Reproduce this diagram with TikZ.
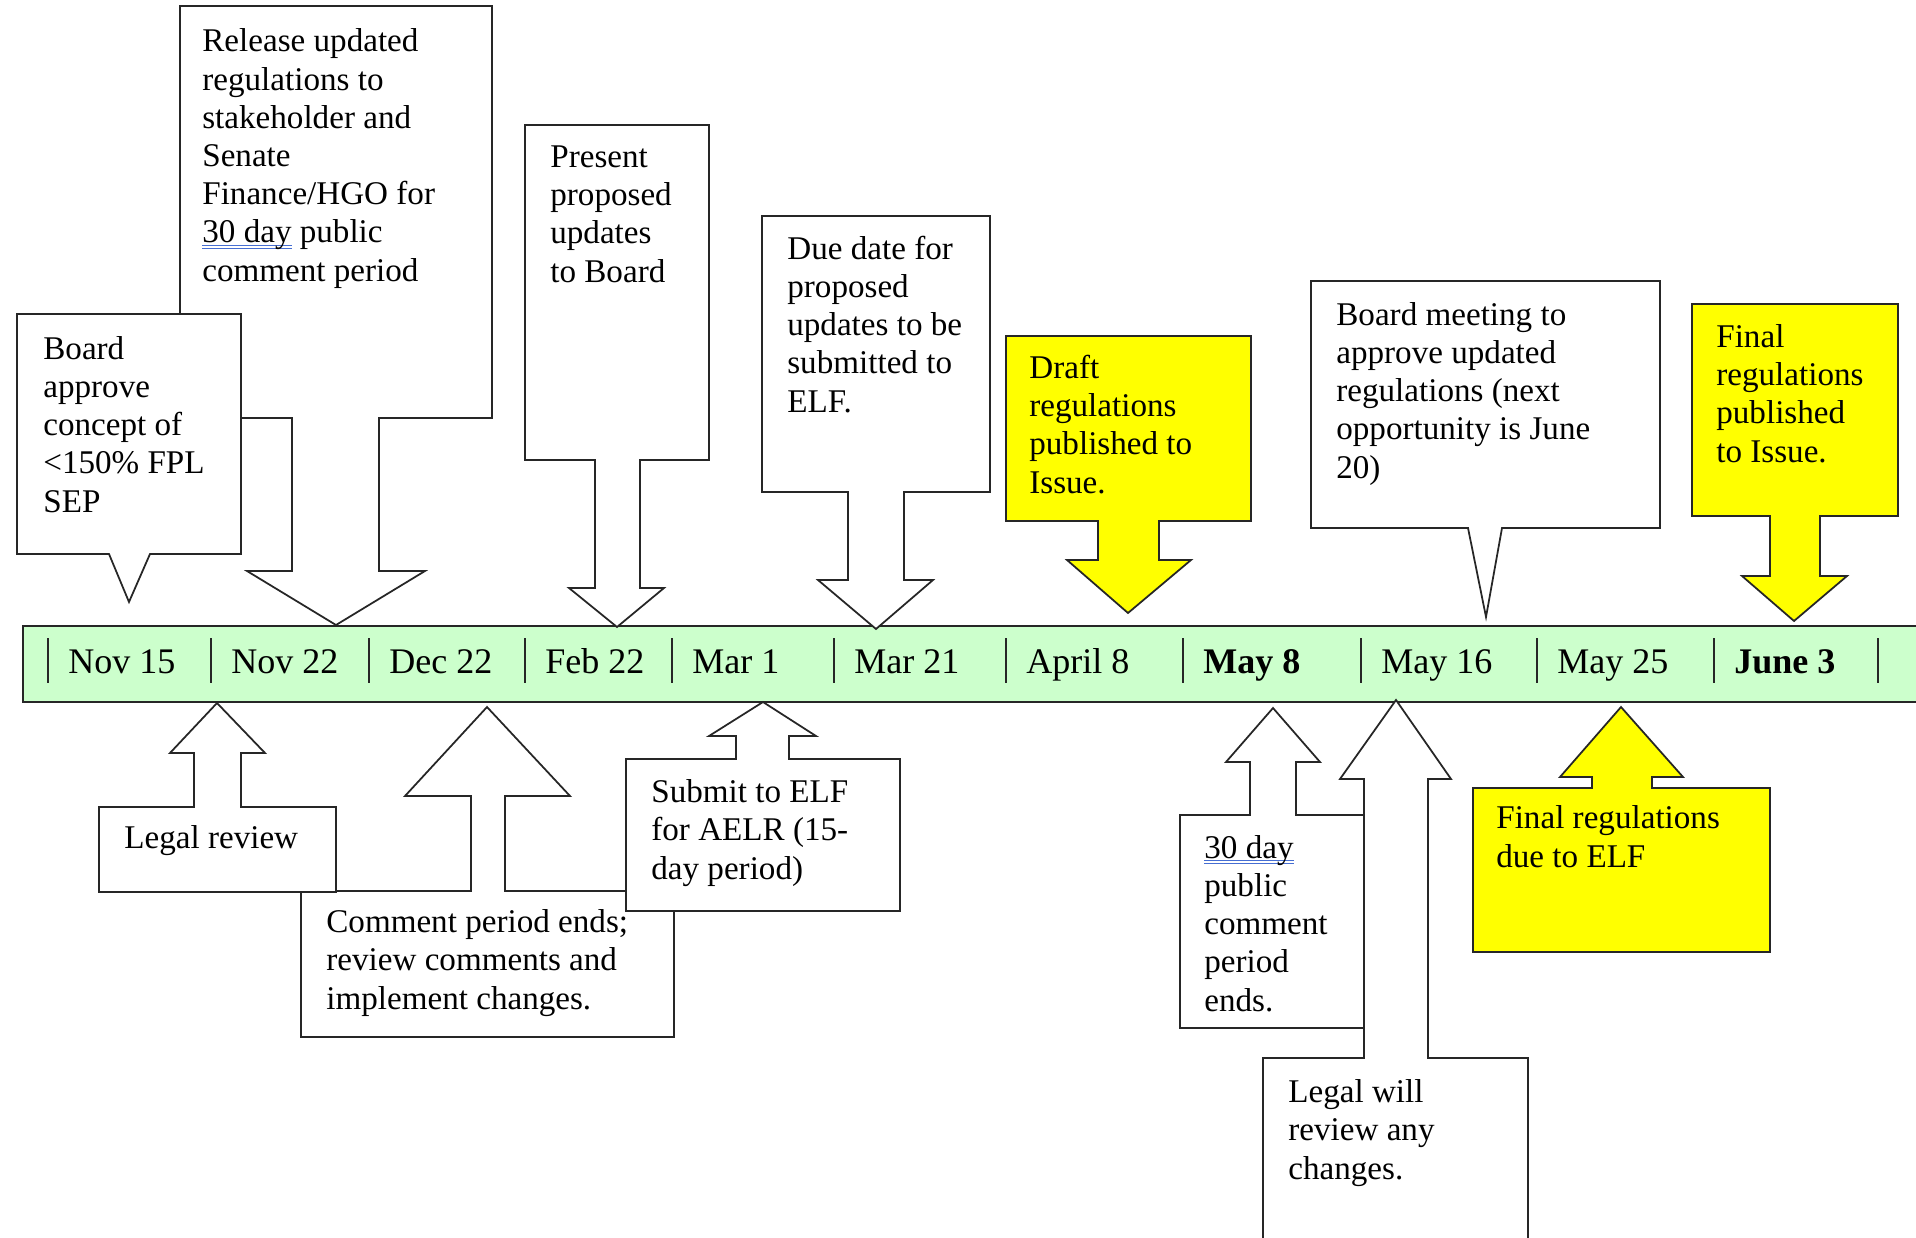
\documentclass[tikz,border=0pt]{standalone}
\usepackage{fontspec}
\setmainfont{Liberation Serif}
\definecolor{bandgreen}{RGB}{204,255,204}
\definecolor{notebright}{RGB}{255,255,0}
\definecolor{gramblue}{RGB}{70,110,210}
\newsavebox\ulbox
\newcommand{\gramul}[1]{\sbox\ulbox{#1}\rlap{\color{gramblue}\rule[-1.6pt]{\wd\ulbox}{0.6pt}}\rlap{\color{gramblue}\rule[-3.4pt]{\wd\ulbox}{0.6pt}}#1}
\newcommand{\bodyfont}{\fontsize{18.85pt}{21.74pt}\selectfont}
\newcommand{\datefont}{\fontsize{20.5pt}{24pt}\selectfont}

\begin{document}
\begin{tikzpicture}[x=0.02cm,y=-0.02cm]
\tikzstyle{band}=[draw=black!85, line width=1pt, fill=bandgreen]
\tikzstyle{divider}=[draw=black!85, line width=0.8pt]
\tikzstyle{callout}=[draw=black!85, line width=1pt, fill=white, line join=miter]
\tikzstyle{hilite}=[callout, fill=notebright]
% notes are placed by the baseline of their last line
\tikzstyle{note}=[anchor=base west, inner sep=0pt, align=left, font=\bodyfont]
\tikzstyle{datelabel}=[anchor=base west, inner sep=0pt, font=\datefont]
\useasboundingbox (0,0) rectangle (1916,1237);
\clip (0,0) rectangle (1916,1237);

% Timeline
\draw[band] (23,626) rectangle (1925,702);
\foreach \x/\d [count=\i] in {48/Nov 15,211/Nov 22,369/Dec 22,525/Feb 22,672/Mar 1,834/Mar 21,1006/April 8,1183/\textbf{May 8},1361/May 16,1537/May 25,1714/\textbf{June 3}} {
  \draw[divider] (\x,638) -- (\x,683);
  \node[datelabel] (date\i) at (\x+20,673) {\d};
}
\draw[divider] (1878,638) -- (1878,683);

% Above the line
\draw[callout] (180,6)--(492,6)--(492,418)--(379,418)--(379,571)--(425,571)--(336,625)--(247,571)--(292,571)--(292,418)--(180,418)--cycle;
\node[note] (release) at (202,281) {Release updated\\regulations to\\stakeholder and\\Senate\\Finance/HGO for\\\gramul{30 day} public\\comment period};
\draw[callout] (17,314)--(241,314)--(241,554)--(150,554)--(129,602)--(109,554)--(17,554)--cycle;
\node[note] (approve) at (43,512) {Board\\approve\\concept of\\<150\% FPL\\SEP};
\draw[callout] (525,125)--(709,125)--(709,460)--(640,460)--(640,588)--(664,588)--(617,627)--(569,588)--(595,588)--(595,460)--(525,460)--cycle;
\node[note] (present) at (550,282) {Present\\proposed\\updates\\to Board};
\draw[callout] (762,216)--(990,216)--(990,492)--(904,492)--(904,580)--(933,580)--(876,629)--(818,580)--(848,580)--(848,492)--(762,492)--cycle;
\node[note] (duedate) at (787,412) {Due date for\\proposed\\updates to be\\submitted to\\ELF.};
\draw[hilite] (1006,336)--(1251,336)--(1251,521)--(1159,521)--(1159,560)--(1191,560)--(1128,613)--(1067,560)--(1098,560)--(1098,521)--(1006,521)--cycle;
\node[note] (draft) at (1029,493) {Draft\\regulations\\published to\\Issue.};
\draw[callout] (1311,281)--(1660,281)--(1660,528)--(1502,528)--(1486,617)--(1468,528)--(1311,528)--cycle;
\node[note] (meeting) at (1336,478) {Board meeting to\\approve updated\\regulations (next\\opportunity is June\\20)};
\draw[hilite] (1692,304)--(1898,304)--(1898,516)--(1820,516)--(1820,576)--(1847,576)--(1794,621)--(1742,576)--(1770,576)--(1770,516)--(1692,516)--cycle;
\node[note] (finalpub) at (1716,462) {Final\\regulations\\published\\to Issue.};

% Below the line
\draw[callout] (301,891)--(471,891)--(471,796)--(405,796)--(487,707)--(570,796)--(505,796)--(505,891)--(674,891)--(674,1037)--(301,1037)--cycle;
\node[note] (comment) at (326,1009) {Comment period ends;\\review comments and\\implement changes.};
\draw[callout] (626,759)--(736,759)--(736,736)--(709,736)--(763,702)--(816,736)--(789,736)--(789,759)--(900,759)--(900,911)--(626,911)--cycle;
\node[note] (submit) at (651,879) {Submit to ELF\\for AELR (15-\\day period)};
\draw[callout] (99,807)--(194,807)--(194,753)--(170,753)--(217,703)--(265,753)--(241,753)--(241,807)--(336,807)--(336,892)--(99,892)--cycle;
\node[note] (legal) at (124,848) {Legal review};
\draw[callout] (1263,1058)--(1364,1058)--(1364,779)--(1340,779)--(1396,700)--(1451,779)--(1428,779)--(1428,1058)--(1528,1058)--(1528,1245)--(1263,1245)--cycle;
\node[note] (legalwill) at (1288,1179) {Legal will\\review any\\changes.};
\draw[callout] (1180,815)--(1250,815)--(1250,762)--(1226,762)--(1273,708)--(1320,762)--(1296,762)--(1296,815)--(1364,815)--(1364,1028)--(1180,1028)--cycle;
\node[note] (thirty) at (1204,1011) {\gramul{30 day}\\public\\comment\\period\\ends.};
\draw[hilite] (1473,788)--(1592,788)--(1592,777)--(1560,777)--(1621,707)--(1683,777)--(1652,777)--(1652,788)--(1770,788)--(1770,952)--(1473,952)--cycle;
\node[note] (finaldue) at (1496,867) {Final regulations\\due to ELF};
\end{tikzpicture}
\end{document}
